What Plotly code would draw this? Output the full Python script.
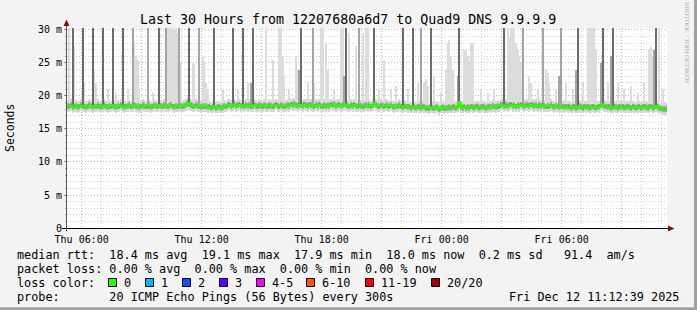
import plotly.graph_objects as go
from datetime import datetime, timedelta

# ---------------- data ----------------
START = datetime(2025, 12, 11, 5, 16)
STEP_S = 300  # seconds per RRD step

median_ms = [
    18.5, 18.4, 18.6, 18.3, 18.4, 18.5, 18.3, 18.4, 18.6, 18.5, 18.4, 18.3,
    18.4, 18.6, 18.5, 18.3, 18.5, 18.4, 18.6, 18.4, 18.3, 18.5, 18.6, 18.4,
    18.3, 18.5, 18.4, 18.6, 18.4, 18.3, 18.5, 18.4, 18.6, 18.5, 18.3, 18.4,
    18.5, 18.6, 18.4, 18.5, 18.7, 18.4, 18.5, 18.3, 18.4, 18.6, 18.5, 18.4,
    18.4, 18.5, 18.3, 18.4, 18.6, 18.5, 18.4, 18.6, 18.5, 18.4, 18.6, 18.5,
    18.4, 18.5, 18.6, 18.4, 18.3, 18.5, 18.4, 18.6, 18.5, 18.4, 18.5, 18.6,
    19.0, 18.7, 18.6, 18.5, 18.4, 18.6, 18.5, 18.4, 18.3, 18.5, 18.4, 18.5,
    18.3, 18.4, 18.2, 18.3, 18.5, 18.2, 18.3, 18.4, 18.2, 18.3, 18.5, 18.4,
    18.6, 18.7, 18.5, 18.6, 18.8, 18.5, 18.6, 18.7, 18.5, 18.6, 18.4, 18.6,
    18.5, 18.6, 18.4, 18.5, 18.7, 18.5, 18.4, 18.6, 18.5, 18.4, 18.6, 18.5,
    18.4, 18.6, 18.5, 18.4, 18.5, 18.7, 18.5, 18.4, 18.6, 18.5, 18.4, 18.5,
    18.6, 18.5, 18.7, 18.6, 18.8, 18.6, 18.5, 18.7, 18.6, 18.5, 18.7, 18.6,
    18.5, 18.7, 18.6, 18.5, 18.4, 18.6, 18.5, 18.7, 18.5, 18.4, 18.6, 18.5,
    18.6, 18.5, 18.7, 18.6, 18.8, 18.5, 18.6, 18.7, 18.5, 18.6, 18.8, 18.6,
    18.5, 18.4, 18.6, 18.5, 18.7, 18.5, 18.4, 18.6, 18.5, 18.4, 18.5, 18.6,
    18.5, 18.6, 18.4, 18.6, 19.0, 18.6, 18.5, 18.4, 18.6, 18.5, 18.4, 18.6,
    18.5, 18.4, 18.6, 18.4, 18.3, 18.5, 18.4, 18.6, 18.4, 18.3, 18.5, 18.4,
    18.3, 18.4, 18.2, 18.4, 18.3, 18.2, 18.4, 18.3, 18.2, 18.4, 18.3, 18.2,
    18.2, 18.1, 18.3, 18.2, 18.1, 18.3, 18.2, 17.9, 18.2, 18.3, 18.1, 18.2,
    18.2, 18.3, 18.2, 18.4, 18.3, 18.2, 18.4, 19.1, 18.3, 18.2, 18.4, 18.2,
    18.3, 18.2, 18.4, 18.3, 18.2, 18.4, 18.3, 18.2, 18.3, 18.4, 18.3, 18.2,
    18.3, 18.4, 18.3, 18.5, 18.4, 18.3, 18.5, 18.4, 18.6, 18.7, 18.5, 18.6,
    18.5, 18.6, 18.7, 18.5, 18.6, 18.4, 18.6, 18.5, 18.7, 18.6, 18.5, 18.6,
    18.6, 18.5, 18.7, 18.6, 18.5, 18.6, 18.4, 18.6, 18.5, 18.7, 18.5, 18.4,
    18.5, 18.4, 18.6, 18.4, 18.3, 18.5, 18.4, 18.3, 18.5, 18.4, 18.3, 18.4,
    18.3, 18.4, 18.2, 18.3, 18.4, 18.2, 18.3, 18.5, 18.3, 18.2, 18.4, 18.3,
    18.4, 18.2, 18.3, 18.4, 18.3, 18.2, 18.4, 18.3, 18.6, 18.8, 18.5, 18.4,
    18.3, 18.4, 18.2, 18.3, 18.4, 18.3, 18.2, 18.4, 18.3, 18.4, 18.2, 18.3,
    18.4, 18.3, 18.2, 18.4, 18.3, 18.2, 18.3, 18.4, 18.2, 18.3, 18.4, 18.3,
    18.2, 18.3, 18.4, 18.2, 18.3, 18.5, 18.3, 18.2, 18.1, 18.0, 18.0, 18.0,
]

# smoke outliers: step index, highest ping (ms), shade (L light / M medium / D dark)
spike_idx = [1, 3, 4, 9, 10, 15, 16, 17, 21, 24, 27, 29, 33, 36, 39, 40, 41, 42, 43,
             48, 51, 55, 59, 60, 61, 62, 63, 64, 65, 66, 67, 68, 73, 75, 76, 79, 81,
             82, 83, 84, 88, 93, 99, 102, 105, 108, 110, 111, 119, 123, 127, 128, 129,
             130, 133, 137, 138, 139, 140, 144, 147, 148, 152, 153, 155, 156, 160, 164,
             165, 166, 167, 169, 173, 175, 177, 179, 180, 184, 187, 190, 194, 197, 201,
             204, 207, 210, 212, 214, 215, 216, 218, 220, 224, 227, 228, 229, 230, 231,
             234, 235, 238, 239, 240, 241, 242, 243, 248, 252, 256, 262, 264, 265, 266,
             267, 268, 269, 270, 271, 272, 273, 277, 278, 282, 285, 287, 288, 289, 293,
             295, 296, 299, 303, 305, 306, 309, 312, 313, 314, 315, 316, 317, 320, 321,
             324, 326, 327, 330, 334, 338, 342, 346, 349, 350, 351, 352, 353, 355, 357]
spike_top = [31, 31, 27.6, 31, 22, 31, 24, 22, 31, 21, 31, 20.5, 31, 21, 31, 28, 26, 25.5, 21,
             31, 20.5, 31, 31, 31, 31, 31, 31, 30, 31, 29.5, 31, 25, 31, 25.2, 25, 31, 26,
             25, 22, 21, 31, 21, 31, 21, 31, 22, 22, 31, 31, 25.5, 31, 31, 26,
             23, 21, 26, 24, 24, 31, 22, 31, 22, 31, 31, 28, 24, 21, 31,
             31, 23, 31, 29.5, 27.6, 31, 29.5, 31, 31, 31, 21, 25.5, 21, 21.5, 31,
             21, 31, 22, 31, 22, 22.5, 21.5, 31, 23, 20.5, 24, 28, 28.5, 26, 24,
             23, 31, 27, 27, 26, 25, 28, 28, 21, 20.5, 21, 31, 31, 29, 31,
             31, 31, 28, 27, 26, 25, 31, 23, 22, 21, 31, 24, 23.5, 22, 21,
             23, 31, 22, 21, 24, 31, 22, 31, 31, 31, 31, 31, 27, 25, 31,
             22, 26, 31, 22, 21, 21.5, 20.5, 22, 27, 27.5, 26, 27, 31, 31, 21]
spike_shade = ["L", "D", "L", "D", "L", "D", "L", "L", "D", "L", "D", "L", "D", "L", "M", "L", "L", "L", "L",
               "M", "L", "D", "M", "L", "L", "L", "L", "L", "L", "L", "M", "L", "D", "L", "L", "M", "L",
               "L", "L", "L", "D", "L", "D", "L", "D", "L", "M", "D", "L", "L", "L", "L", "L",
               "L", "L", "L", "L", "M", "D", "L", "M", "L", "L", "L", "L", "L", "L", "L",
               "L", "M", "D", "L", "L", "M", "L", "L", "L", "D", "L", "L", "L", "L", "D",
               "L", "D", "L", "M", "L", "L", "L", "D", "L", "L", "L", "L", "L", "L", "L",
               "M", "D", "L", "L", "L", "L", "L", "L", "L", "L", "L", "D", "L", "L", "L",
               "L", "L", "L", "L", "L", "L", "M", "L", "L", "L", "M", "L", "L", "L", "L",
               "M", "M", "L", "L", "M", "D", "L", "L", "L", "L", "L", "L", "L", "M", "D",
               "L", "M", "D", "L", "L", "L", "L", "L", "L", "L", "L", "M", "D", "L", "L"]

# spread of the 20 pings around the median (outer, middle, inner smoke layers)
smoke_layers = [(-0.85, 0.9), (-0.4, 0.45), (-0.15, 0.2)]

x_tickvals = ["2025-12-11 06:00", "2025-12-11 09:00", "2025-12-11 12:00", "2025-12-11 15:00",
              "2025-12-11 18:00", "2025-12-11 21:00", "2025-12-12 00:00", "2025-12-12 03:00",
              "2025-12-12 06:00", "2025-12-12 09:00"]
x_ticktext = ["Thu 06:00", "", "Thu 12:00", "", "Thu 18:00", "", "Fri 00:00", "", "Fri 06:00", ""]
y_tickvals = [0, 5, 10, 15, 20, 25, 30]
y_ticktext = ["0", "5 m", "10 m", "15 m", "20 m", "25 m", "30 m"]

title_text = "Last 30 Hours from 12207680a6d7 to Quad9 DNS 9.9.9.9"
legend_rtt = "median rtt:  18.4 ms avg  19.1 ms max  17.9 ms min  18.0 ms now  0.2 ms sd   91.4  am/s"
legend_loss = "packet loss: 0.00 % avg  0.00 % max  0.00 % min  0.00 % now"
loss_labels = ["0", "1", "2", "3", "4-5", "6-10", "11-19", "20/20"]
loss_colors = ["#26ff00", "#00b8ff", "#0059ff", "#5e00ff", "#ff00ff", "#ff5500", "#ff0000", "#a10000"]
probe_text = "probe:       20 ICMP Echo Pings (56 Bytes) every 300s"
stamp_text = "Fri Dec 12 11:12:39 2025"

# ---------------- figure ----------------
W, H = 697, 310
ML, MR, MT, MB = 67, 30, 28, 82
PW, PH = W - ML - MR, H - MT - MB
MONO = "DejaVu Sans Mono"


def px(x):
    return (x - ML) / PW


def py(y):
    return (MT + PH - y) / PH


def nb(s):
    return s.replace(" ", "\u00a0")


N = len(median_ms)
step = timedelta(seconds=STEP_S)
t_start = [START + i * step for i in range(N)]
t_mid = [t + step / 2 for t in t_start]
END = START + N * step
bar_w = STEP_S * 1000

band_colors = ["#d6d6d6", "#a6a6a6", "#6a6a6a"]
shade_colors = {"L": "#dcdcdc", "M": "#a3a3a3", "D": "#6b6b6b"}
shade_width = {"L": bar_w, "M": bar_w, "D": bar_w}

fig = go.Figure()


def add_spikes(shade):
    xs, base, hgt = [], [], []
    for i, top, s in zip(spike_idx, spike_top, spike_shade):
        if s != shade:
            continue
        xs.append(t_mid[i])
        base.append(median_ms[i])
        hgt.append(top - median_ms[i])
    if xs:
        fig.add_trace(go.Bar(x=xs, y=hgt, base=base, width=shade_width[shade],
                             marker=dict(color=shade_colors[shade], line=dict(width=0)),
                             hoverinfo="skip", showlegend=False))


for (lo, hi), col, shade in zip(smoke_layers, band_colors, ["L", "M", "D"]):
    fig.add_trace(go.Bar(x=t_mid, y=[hi - lo] * N, base=[m + lo for m in median_ms],
                         width=bar_w, marker=dict(color=col, line=dict(width=0)),
                         hoverinfo="skip", showlegend=False))
    add_spikes(shade)

fig.add_trace(go.Scatter(x=t_start + [END], y=median_ms + [median_ms[-1]], mode="lines",
                         line=dict(color=loss_colors[0], width=2, shape="hv"),
                         hoverinfo="skip", showlegend=False))

grid_major = "#e3a9a9"
grid_minor = "#cfcfcf"

fig.update_layout(
    width=W, height=H, margin=dict(l=ML, r=MR, t=MT, b=MB),
    paper_bgcolor="#f3f3f3", plot_bgcolor="#ffffff",
    barmode="overlay", bargap=0, showlegend=False,
    font=dict(family=MONO, color="#000000"),
    xaxis=dict(type="date", range=[START, END], tickmode="array",
               tickvals=x_tickvals, ticktext=x_ticktext, ticks="", ticklabelstandoff=4,
               tickfont=dict(family=MONO, size=10, color="#000"),
               showgrid=True, gridcolor=grid_major, griddash="1px,2px", gridwidth=1,
               minor=dict(dtick=3600000, tick0="2025-12-11 06:00", showgrid=True,
                          gridcolor=grid_minor, griddash="1px,2px", gridwidth=1),
               showline=False, zeroline=False, fixedrange=True),
    yaxis=dict(range=[0, 30.3], tickmode="array", tickvals=y_tickvals, ticktext=y_ticktext,
               ticks="outside", ticklen=2, tickcolor="#888",
               tickfont=dict(family=MONO, size=10, color="#000"),
               showgrid=True, gridcolor=grid_major, griddash="1px,2px", gridwidth=1,
               minor=dict(dtick=1, showgrid=True, gridcolor=grid_minor,
                          griddash="1px,2px", gridwidth=1, ticks="outside", ticklen=1,
                          tickcolor="#aaa"),
               showline=False, zeroline=False, fixedrange=True),
)

shapes = []
# axes
shapes.append(dict(type="line", xref="paper", yref="paper", x0=px(62), x1=px(669),
                   y0=py(228.5), y1=py(228.5), line=dict(color="#000", width=1)))
shapes.append(dict(type="line", xref="paper", yref="paper", x0=px(66.5), x1=px(66.5),
                   y0=py(231), y1=py(25), line=dict(color="#555", width=1)))
# arrows
arrow = "#8b0d0d"
shapes.append(dict(type="path", xref="paper", yref="paper", fillcolor=arrow, line=dict(width=0),
                   path=f"M {px(668)},{py(225.5)} L {px(674.5)},{py(228.5)} L {px(668)},{py(231.5)} Z"))
shapes.append(dict(type="path", xref="paper", yref="paper", fillcolor=arrow, line=dict(width=0),
                   path=f"M {px(63.5)},{py(26)} L {px(66.5)},{py(19.5)} L {px(69.5)},{py(26)} Z"))
# frame shadow
shapes.append(dict(type="rect", xref="paper", yref="paper", x0=px(694), x1=px(697),
                   y0=py(310), y1=py(0), fillcolor="#a0a0a0", line=dict(width=0)))
shapes.append(dict(type="rect", xref="paper", yref="paper", x0=px(0), x1=px(697),
                   y0=py(310), y1=py(307.3), fillcolor="#a0a0a0", line=dict(width=0)))
# loss colour swatches
swatch_x = [108.5, 145.5, 182.5, 219.5, 256.5, 306.5, 365.5, 431.5]
for sx, col in zip(swatch_x, loss_colors):
    shapes.append(dict(type="rect", xref="paper", yref="paper", x0=px(sx), x1=px(sx + 8),
                       y0=py(286.5), y1=py(278.5), fillcolor=col,
                       line=dict(color="#000", width=1)))

ann = []


def text(x, y, s, size=11.8, anchor="left", color="#000", angle=0, family=MONO):
    ann.append(dict(xref="paper", yref="paper", x=px(x), y=py(y), text=nb(s), showarrow=False,
                    xanchor=anchor, yanchor="middle", textangle=angle,
                    font=dict(family=family, size=size, color=color)))


text(348, 19, title_text, size=13.3, anchor="center")
text(10, 128, "Seconds", size=11.5, anchor="center", angle=-90)
text(687, 43, "RRDTOOL / TOBI OETIKER", size=6.6, anchor="center", angle=90, color="#a8a8a8",
     family="Liberation Sans Narrow")
text(15, 254.5, legend_rtt)
text(15, 268.5, legend_loss)
text(15, 282.5, "loss color:")
for sx, lab in zip(swatch_x, loss_labels):
    text(sx + 13.5, 282.5, lab)
text(15, 296.5, probe_text)
text(681, 296.5, stamp_text, anchor="right")

fig.update_layout(shapes=shapes, annotations=ann)
fig.write_html("out.html")
